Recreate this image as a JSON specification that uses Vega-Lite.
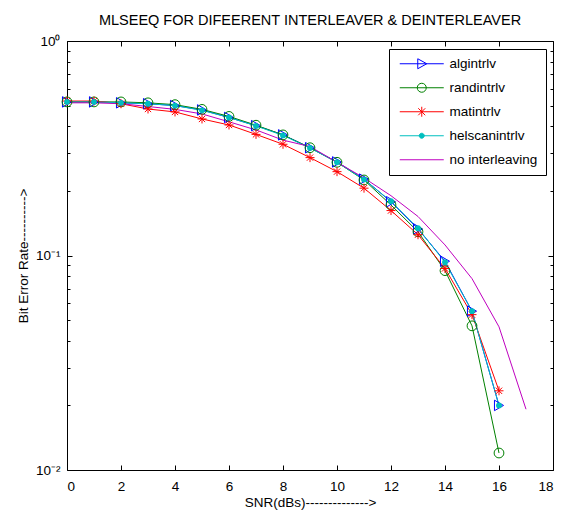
{
  "$schema": "https://vega.github.io/schema/vega-lite/v6.json",
  "width": 486,
  "height": 429,
  "autosize": "none",
  "padding": {"left": 67, "top": 41, "right": 9, "bottom": 42},
  "background": "white",
  "title": {
    "text": "MLSEEQ FOR DIFEERENT INTERLEAVER & DEINTERLEAVER",
    "font": "Liberation Sans",
    "fontSize": 14.5,
    "fontWeight": "normal",
    "color": "black",
    "anchor": "middle",
    "offset": 6
  },
  "config": {
    "font": "Liberation Sans",
    "view": {"stroke": "black", "strokeWidth": 1},
    "axis": {
      "domain": false,
      "grid": false,
      "labelFont": "Liberation Sans",
      "labelFontSize": 13.5,
      "labelColor": "black",
      "titleFont": "Liberation Sans",
      "titleFontSize": 13.5,
      "titleFontWeight": "normal",
      "titleColor": "black",
      "tickColor": "black",
      "tickWidth": 1,
      "ticks": true
    }
  },
  "data": {
    "values": [
      {"series": "algintrlv", "snr": 0, "ber": 0.52},
      {"series": "algintrlv", "snr": 1, "ber": 0.52},
      {"series": "algintrlv", "snr": 2, "ber": 0.515},
      {"series": "algintrlv", "snr": 3, "ber": 0.51},
      {"series": "algintrlv", "snr": 4, "ber": 0.5},
      {"series": "algintrlv", "snr": 5, "ber": 0.477},
      {"series": "algintrlv", "snr": 6, "ber": 0.44},
      {"series": "algintrlv", "snr": 7, "ber": 0.403},
      {"series": "algintrlv", "snr": 8, "ber": 0.365},
      {"series": "algintrlv", "snr": 9, "ber": 0.318},
      {"series": "algintrlv", "snr": 10, "ber": 0.273},
      {"series": "algintrlv", "snr": 11, "ber": 0.227},
      {"series": "algintrlv", "snr": 12, "ber": 0.178},
      {"series": "algintrlv", "snr": 13, "ber": 0.133},
      {"series": "algintrlv", "snr": 14, "ber": 0.094},
      {"series": "algintrlv", "snr": 15, "ber": 0.055},
      {"series": "algintrlv", "snr": 16, "ber": 0.02},

      {"series": "randintrlv", "snr": 0, "ber": 0.52},
      {"series": "randintrlv", "snr": 1, "ber": 0.52},
      {"series": "randintrlv", "snr": 2, "ber": 0.52},
      {"series": "randintrlv", "snr": 3, "ber": 0.515},
      {"series": "randintrlv", "snr": 4, "ber": 0.505},
      {"series": "randintrlv", "snr": 5, "ber": 0.48},
      {"series": "randintrlv", "snr": 6, "ber": 0.445},
      {"series": "randintrlv", "snr": 7, "ber": 0.405},
      {"series": "randintrlv", "snr": 8, "ber": 0.365},
      {"series": "randintrlv", "snr": 9, "ber": 0.318},
      {"series": "randintrlv", "snr": 10, "ber": 0.272},
      {"series": "randintrlv", "snr": 11, "ber": 0.225},
      {"series": "randintrlv", "snr": 12, "ber": 0.172},
      {"series": "randintrlv", "snr": 13, "ber": 0.129},
      {"series": "randintrlv", "snr": 14, "ber": 0.085},
      {"series": "randintrlv", "snr": 15, "ber": 0.047},
      {"series": "randintrlv", "snr": 16, "ber": 0.012},

      {"series": "matintrlv", "snr": 0, "ber": 0.525},
      {"series": "matintrlv", "snr": 1, "ber": 0.525},
      {"series": "matintrlv", "snr": 2, "ber": 0.51},
      {"series": "matintrlv", "snr": 3, "ber": 0.482},
      {"series": "matintrlv", "snr": 4, "ber": 0.467},
      {"series": "matintrlv", "snr": 5, "ber": 0.433},
      {"series": "matintrlv", "snr": 6, "ber": 0.406},
      {"series": "matintrlv", "snr": 7, "ber": 0.367},
      {"series": "matintrlv", "snr": 8, "ber": 0.33},
      {"series": "matintrlv", "snr": 9, "ber": 0.286},
      {"series": "matintrlv", "snr": 10, "ber": 0.246},
      {"series": "matintrlv", "snr": 11, "ber": 0.206},
      {"series": "matintrlv", "snr": 12, "ber": 0.162},
      {"series": "matintrlv", "snr": 13, "ber": 0.125},
      {"series": "matintrlv", "snr": 14, "ber": 0.087},
      {"series": "matintrlv", "snr": 15, "ber": 0.053},
      {"series": "matintrlv", "snr": 16, "ber": 0.0234},

      {"series": "helscanintrlv", "snr": 0, "ber": 0.52},
      {"series": "helscanintrlv", "snr": 1, "ber": 0.52},
      {"series": "helscanintrlv", "snr": 2, "ber": 0.515},
      {"series": "helscanintrlv", "snr": 3, "ber": 0.51},
      {"series": "helscanintrlv", "snr": 4, "ber": 0.5},
      {"series": "helscanintrlv", "snr": 5, "ber": 0.475},
      {"series": "helscanintrlv", "snr": 6, "ber": 0.44},
      {"series": "helscanintrlv", "snr": 7, "ber": 0.402},
      {"series": "helscanintrlv", "snr": 8, "ber": 0.363},
      {"series": "helscanintrlv", "snr": 9, "ber": 0.317},
      {"series": "helscanintrlv", "snr": 10, "ber": 0.272},
      {"series": "helscanintrlv", "snr": 11, "ber": 0.226},
      {"series": "helscanintrlv", "snr": 12, "ber": 0.179},
      {"series": "helscanintrlv", "snr": 13, "ber": 0.134},
      {"series": "helscanintrlv", "snr": 14, "ber": 0.093},
      {"series": "helscanintrlv", "snr": 15, "ber": 0.055},
      {"series": "helscanintrlv", "snr": 16, "ber": 0.02},

      {"series": "no interleaving", "snr": 0, "ber": 0.515},
      {"series": "no interleaving", "snr": 1, "ber": 0.515},
      {"series": "no interleaving", "snr": 2, "ber": 0.51},
      {"series": "no interleaving", "snr": 3, "ber": 0.495},
      {"series": "no interleaving", "snr": 4, "ber": 0.48},
      {"series": "no interleaving", "snr": 5, "ber": 0.457},
      {"series": "no interleaving", "snr": 6, "ber": 0.42},
      {"series": "no interleaving", "snr": 7, "ber": 0.385},
      {"series": "no interleaving", "snr": 8, "ber": 0.345},
      {"series": "no interleaving", "snr": 9, "ber": 0.322},
      {"series": "no interleaving", "snr": 10, "ber": 0.272},
      {"series": "no interleaving", "snr": 11, "ber": 0.23},
      {"series": "no interleaving", "snr": 12, "ber": 0.19},
      {"series": "no interleaving", "snr": 13, "ber": 0.152},
      {"series": "no interleaving", "snr": 14, "ber": 0.112},
      {"series": "no interleaving", "snr": 15, "ber": 0.078},
      {"series": "no interleaving", "snr": 16, "ber": 0.0465},
      {"series": "no interleaving", "snr": 17, "ber": 0.0192}
    ]
  },
  "resolve": {"axis": {"x": "independent", "y": "independent"}},
  "layer": [
    {
      "mark": {"type": "line", "strokeWidth": 1, "clip": false},
      "encoding": {
        "x": {
          "field": "snr",
          "type": "quantitative",
          "scale": {"domain": [0, 18], "nice": false, "zero": false},
          "axis": {
            "orient": "bottom",
            "values": [0, 2, 4, 6, 8, 10, 12, 14, 16, 18],
            "ticks": true,
            "tickSize": 5,
            "offset": -5,
            "labelPadding": 9,
            "title": "SNR(dBs)-------------->",
            "titlePadding": 3
          }
        },
        "y": {
          "field": "ber",
          "type": "quantitative",
          "scale": {"type": "log", "domain": [0.01, 1], "nice": false},
          "axis": {
            "orient": "left",
            "values": [0.01, 0.1, 1],
            "ticks": true,
            "tickSize": 5,
            "offset": -5,
            "labelPadding": 7,
            "labelExpr": "datum.value === 1 ? '10⁰' : datum.value === 0.1 ? '10⁻¹' : datum.value === 0.01 ? '10⁻²' : ''",
            "title": "Bit Error Rate---------->",
            "titlePadding": 5
          }
        },
        "color": {
          "field": "series",
          "type": "nominal",
          "scale": {
            "domain": ["algintrlv", "randintrlv", "matintrlv", "helscanintrlv", "no interleaving"],
            "range": ["#0000FF", "#008000", "#FF0000", "#00BFBF", "#BF00BF"]
          },
          "legend": {
            "orient": "none",
            "legendX": 322,
            "legendY": 8,
            "title": null,
            "direction": "vertical",
            "strokeColor": "black",
            "fillColor": "white",
            "padding": 8,
            "labelFont": "Liberation Sans",
            "labelFontSize": 13.5,
            "labelColor": "black",
            "symbolSize": 100,
            "symbolOffset": 18,
            "labelOffset": 21,
            "rowPadding": 9,
            "symbolStrokeWidth": 1,
            "encode": {
              "symbols": {
                "update": {
                  "shape": {"signal": "datum.value === 'algintrlv' ? 'M-4.4,0L4.4,0M-0.8,-1L1,0L-0.8,1Z' : datum.value === 'randintrlv' ? 'M-4.4,0L4.4,0M0.9,0A0.9,0.9 0 1,1 -0.9,0A0.9,0.9 0 1,1 0.9,0Z' : datum.value === 'matintrlv' ? 'M-4.4,0L4.4,0M0,-1L0,1M-0.7,-0.7L0.7,0.7M-0.7,0.7L0.7,-0.7' : datum.value === 'helscanintrlv' ? 'M-4.4,0L4.4,0M0.5,0A0.5,0.5 0 1,1 -0.5,0A0.5,0.5 0 1,1 0.5,0Z' : 'M-4.4,0L4.4,0'"},
                  "fillOpacity": {"signal": "datum.value === 'helscanintrlv' ? 1 : 0"},
                  "stroke": {"scale": "color", "field": "value"},
                  "strokeWidth": {"value": 1},
                  "opacity": {"value": 1}
                }
              }
            }
          }
        }
      }
    },
    {
      "transform": [{"filter": {"field": "series", "oneOf": ["algintrlv", "randintrlv", "matintrlv"]}}],
      "mark": {"type": "point", "filled": false, "strokeWidth": 1, "opacity": 1, "clip": false},
      "encoding": {
        "x": {
          "field": "snr",
          "type": "quantitative",
          "axis": {
            "orient": "top",
            "values": [0, 2, 4, 6, 8, 10, 12, 14, 16, 18],
            "labels": false,
            "ticks": true,
            "tickSize": 5,
            "offset": -5,
            "title": null
          }
        },
        "y": {
          "field": "ber",
          "type": "quantitative",
          "axis": {
            "orient": "right",
            "values": [0.01, 0.1, 1],
            "labels": false,
            "ticks": true,
            "tickSize": 5,
            "offset": -5,
            "title": null
          }
        },
        "color": {"field": "series", "type": "nominal"},
        "shape": {
          "field": "series",
          "type": "nominal",
          "scale": {
            "domain": ["algintrlv", "randintrlv", "matintrlv"],
            "range": ["triangle-right", "circle", "M-1,0L1,0M0,-1L0,1M-0.7,-0.7L0.7,0.7M-0.7,0.7L0.7,-0.7"]
          },
          "legend": null
        },
        "size": {
          "field": "series",
          "type": "nominal",
          "scale": {"domain": ["algintrlv", "randintrlv", "matintrlv"], "range": [110, 81, 72]},
          "legend": null
        }
      }
    },
    {
      "transform": [{"filter": {"field": "series", "equal": "helscanintrlv"}}],
      "mark": {"type": "point", "shape": "circle", "filled": true, "size": 34, "opacity": 1, "clip": false},
      "encoding": {
        "x": {"field": "snr", "type": "quantitative", "axis": null},
        "y": {
          "field": "ber",
          "type": "quantitative",
          "axis": {
            "orient": "left",
            "values": [0.02, 0.03, 0.04, 0.05, 0.06, 0.07, 0.08, 0.09, 0.2, 0.3, 0.4, 0.5, 0.6, 0.7, 0.8, 0.9],
            "labels": false,
            "ticks": true,
            "tickSize": 3,
            "offset": -3,
            "title": null
          }
        },
        "color": {"field": "series", "type": "nominal"}
      }
    },
    {
      "mark": {"type": "point", "opacity": 0},
      "encoding": {
        "x": {"field": "snr", "type": "quantitative", "axis": null},
        "y": {
          "field": "ber",
          "type": "quantitative",
          "axis": {
            "orient": "right",
            "values": [0.02, 0.03, 0.04, 0.05, 0.06, 0.07, 0.08, 0.09, 0.2, 0.3, 0.4, 0.5, 0.6, 0.7, 0.8, 0.9],
            "labels": false,
            "ticks": true,
            "tickSize": 3,
            "offset": -3,
            "title": null
          }
        }
      }
    }
  ]
}
